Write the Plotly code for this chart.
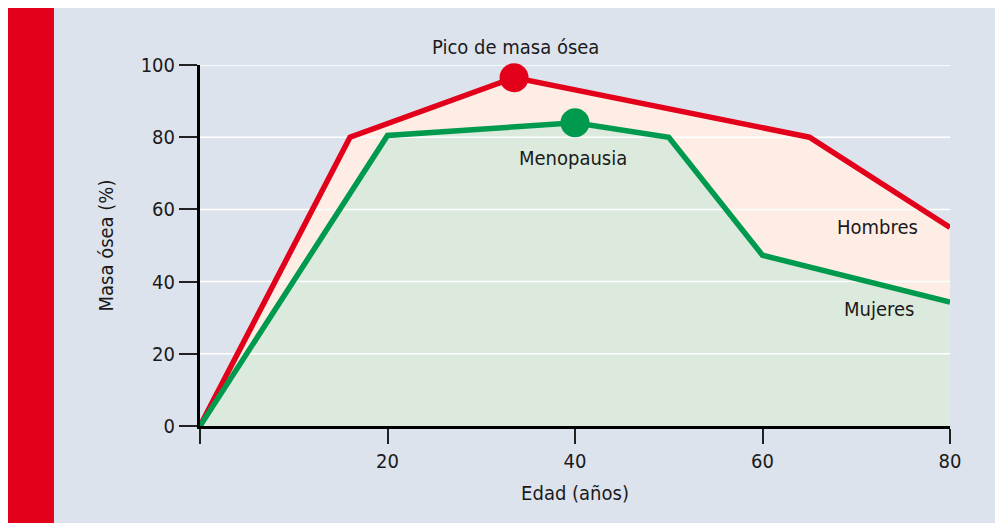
import plotly.graph_objects as go

# ---- data ----
edad_hombres = [0, 16, 33.5, 65, 80]
masa_hombres = [0, 80, 96.5, 80, 55]
edad_mujeres = [0, 20, 40, 50, 60, 80]
masa_mujeres = [0, 80.5, 84, 80, 47.3, 34.3]
pico_x, pico_y = [33.5], [96.5]
meno_x, meno_y = [40], [84]
y_ticks = [0, 20, 40, 60, 80, 100]
x_ticks = [0, 20, 40, 60, 80]
x_ticktext = ["", "20", "40", "60", "80"]
labels_text = ["Menopausia", "Hombres", "Mujeres"]
labels_x = [39.8, 72.3, 72.4]
labels_y = [74.2, 55.1, 32.4]
pico_label = "Pico de masa ósea"
pico_label_x = 33.7

RED = "#e2001a"
GREEN = "#009a4e"
PINK_FILL = "#fdede5"
GREEN_FILL = "#dbeadc"
BG = "#dde3ed"
FONT = "DejaVu Sans Condensed, Liberation Sans Narrow, Arial Narrow, Roboto, sans-serif"
TXT = "#1a1a1a"
FS = 20

fig = go.Figure()
# fills
fig.add_trace(go.Scatter(x=edad_hombres, y=masa_hombres, fill="tozeroy", fillcolor=PINK_FILL,
                         mode="lines", line=dict(width=0), hoverinfo="skip", showlegend=False))
fig.add_trace(go.Scatter(x=edad_mujeres, y=masa_mujeres, fill="tozeroy", fillcolor=GREEN_FILL,
                         mode="lines", line=dict(width=0), hoverinfo="skip", showlegend=False))
# gridlines above fills, below lines
gx, gy = [], []
for v in y_ticks[1:]:
    gx += [x_ticks[0], x_ticks[-1], None]
    gy += [v, v, None]
fig.add_trace(go.Scatter(x=gx, y=gy, mode="lines", line=dict(color="white", width=1.5),
                         hoverinfo="skip", showlegend=False, cliponaxis=False))
# lines
fig.add_trace(go.Scatter(x=edad_hombres, y=masa_hombres, mode="lines", name="Hombres",
                         line=dict(color=RED, width=5.5), cliponaxis=False, showlegend=False))
fig.add_trace(go.Scatter(x=edad_mujeres, y=masa_mujeres, mode="lines", name="Mujeres",
                         line=dict(color=GREEN, width=5.5), cliponaxis=False, showlegend=False))
# markers
fig.add_trace(go.Scatter(x=pico_x, y=pico_y, mode="markers", marker=dict(color=RED, size=29),
                         cliponaxis=False, showlegend=False))
fig.add_trace(go.Scatter(x=meno_x, y=meno_y, mode="markers", marker=dict(color=GREEN, size=29),
                         cliponaxis=False, showlegend=False))

for t, x, y in zip(labels_text, labels_x, labels_y):
    fig.add_annotation(x=x, y=y, text=t, showarrow=False, xanchor="center", yanchor="middle",
                       font=dict(family=FONT, size=FS, color=TXT))
fig.add_annotation(x=pico_label_x, xref="x", y=1.05, yref="paper", text=pico_label, showarrow=False,
                   xanchor="center", yanchor="middle", font=dict(family=FONT, size=FS, color=TXT))

# red side bar
fig.add_shape(type="rect", xref="paper", yref="paper", x0=-0.3, x1=-0.1947, y0=-0.4, y1=1.3,
              fillcolor=RED, line=dict(width=0), layer="below")

fig.update_layout(
    width=1003, height=523,
    margin=dict(l=192, r=61, t=57, b=105),
    paper_bgcolor=BG, plot_bgcolor="rgba(0,0,0,0)",
    font=dict(family=FONT, size=FS, color=TXT),
    xaxis=dict(range=[0, 80], tickvals=x_ticks, ticktext=x_ticktext, showgrid=False, zeroline=False,
               showline=True, linecolor="black", linewidth=3, ticks="outside", ticklen=15,
               tickwidth=1.5, tickcolor="#222", tickfont=dict(family=FONT, size=FS, color=TXT),
               title=dict(text="Edad (años)", standoff=14, font=dict(family=FONT, size=FS, color=TXT))),
    yaxis=dict(range=[0, 100], tickvals=y_ticks, showgrid=False, zeroline=False,
               showline=True, linecolor="black", linewidth=3, ticks="outside", ticklen=18,
               tickwidth=1.5, tickcolor="#222", tickfont=dict(family=FONT, size=FS, color=TXT),
               title=dict(text="Masa ósea (%)", standoff=22, font=dict(family=FONT, size=FS, color=TXT))),
)

fig.write_html("out.html")
